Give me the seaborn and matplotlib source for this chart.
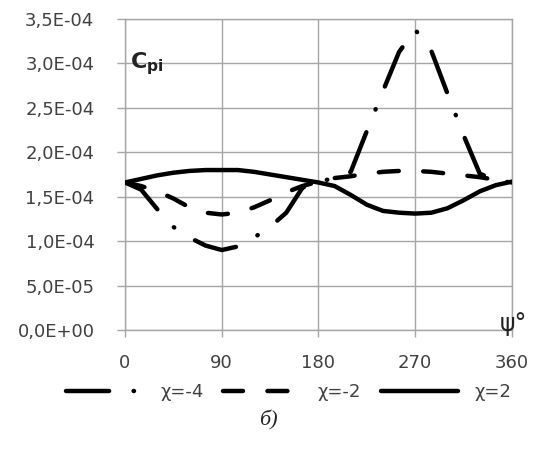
import pandas as pd
import numpy as np
import matplotlib.pyplot as plt
import matplotlib.ticker as mticker
import seaborn as sns

# valores (psi en grados, Cpi en 1E-04)
psi_m4 = [0, 15, 30, 45, 60, 75, 90, 105, 120, 135, 150, 165, 180, 195, 210,
          225, 240, 255, 270, 285, 300, 315, 330, 345, 360]
cpi_m4 = [1.66, 1.58, 1.36, 1.16, 1.04, 0.95, 0.90, 0.94, 1.04, 1.16, 1.32, 1.60, 1.68, 1.70, 1.78,
          2.24, 2.69, 3.13, 3.38, 3.14, 2.66, 2.19, 1.76, 1.68, 1.66]

psi_m2 = [0, 15, 30, 45, 60, 75, 90, 105, 120, 135, 150, 165, 180, 195, 210,
          225, 240, 255, 270, 285, 300, 315, 330, 345, 360]
cpi_m2 = [1.66, 1.62, 1.56, 1.48, 1.38, 1.32, 1.30, 1.32, 1.38, 1.46, 1.55, 1.62, 1.67, 1.71, 1.73,
          1.76, 1.78, 1.79, 1.79, 1.78, 1.76, 1.74, 1.72, 1.69, 1.66]

psi_p2 = [0, 15, 30, 45, 60, 75, 90, 105, 120, 135, 150, 165, 180, 195, 210,
          225, 240, 255, 270, 285, 300, 315, 330, 345, 360]
cpi_p2 = [1.66, 1.70, 1.74, 1.77, 1.79, 1.80, 1.80, 1.80, 1.78, 1.75, 1.72, 1.69, 1.66, 1.62, 1.52,
          1.41, 1.34, 1.32, 1.31, 1.32, 1.37, 1.46, 1.56, 1.63, 1.67]

etiquetas = ["χ=-4", "χ=-2", "χ=2"]

datos = pd.concat([
    pd.DataFrame({"psi": psi_m4, "cpi": np.array(cpi_m4) * 1e-4, "serie": etiquetas[0]}),
    pd.DataFrame({"psi": psi_m2, "cpi": np.array(cpi_m2) * 1e-4, "serie": etiquetas[1]}),
    pd.DataFrame({"psi": psi_p2, "cpi": np.array(cpi_p2) * 1e-4, "serie": etiquetas[2]}),
], ignore_index=True)

sns.set_style("white")
plt.rcParams["font.family"] = ["DejaVu Sans"]

fig = plt.figure(figsize=(5.47, 4.51), dpi=100)
ax = fig.add_axes([0.2285, 0.2683, 0.7075, 0.6896])

gris = "#a6a6a6"
texto = "#404040"

sns.lineplot(data=datos, x="psi", y="cpi", style="serie", style_order=etiquetas,
             dashes={"χ=-4": (9.7, 5.5, 0.1, 5.5), "χ=-2": (4.5, 5.5), "χ=2": ""},
             color="black", linewidth=3.2, errorbar=None, legend=False,
             dash_capstyle="round", solid_capstyle="round", ax=ax)

ax.set_xlim(0, 360)
ax.set_ylim(0, 3.5e-4)
ax.set_xticks([0, 90, 180, 270, 360])
ax.set_yticks(np.arange(0, 3.51e-4, 0.5e-4))
ax.yaxis.set_major_formatter(mticker.FuncFormatter(lambda v, _: f"{v:.1E}".replace(".", ",")))
ax.grid(True, color=gris, linewidth=1.0)
ax.set_axisbelow(True)
for lado in ["top", "right", "left", "bottom"]:
    ax.spines[lado].set_visible(True)
    ax.spines[lado].set_color(gris)
    ax.spines[lado].set_linewidth(1.0)
    ax.spines[lado].set_zorder(0.5)
ax.tick_params(axis="y", direction="out", length=6, width=1, color=gris,
               labelsize=13, labelcolor=texto, pad=16, left=True)
ax.tick_params(axis="x", direction="out", length=5, width=1, color=gris,
               labelsize=13, labelcolor=texto, pad=12, bottom=True)
ax.set_xlabel("")
ax.set_ylabel("")

ax.text(0.013, 0.842, r"$\mathbf{C_{pi}}$", transform=ax.transAxes,
        fontsize=16, color="#222222", va="baseline", ha="left")
ax.text(1.005, 0.02, "ψ°", transform=ax.transAxes, fontsize=17,
        color="#222222", va="center", ha="center")

fig.legend(handles=ax.lines[:3], labels=etiquetas, loc="center",
           bbox_to_anchor=(0.528, 0.131), ncol=3, frameon=False,
           handlelength=4.3, handletextpad=0.9, columnspacing=1.1,
           prop={"size": 13}, labelcolor=texto)

fig.text(0.49, 0.068, "б)", fontsize=16, style="italic",
         family=["Liberation Serif", "DejaVu Serif"], ha="center", va="center", color="#222222")

fig.savefig("out.png", dpi=100)
